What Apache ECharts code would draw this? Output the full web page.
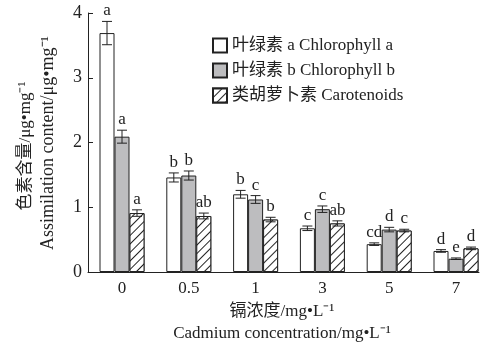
<!DOCTYPE html>
<html><head><meta charset="utf-8">
<script src="https://cdn.jsdelivr.net/npm/echarts@6/dist/echarts.min.js"></script>
<style>html,body{margin:0;padding:0;background:#fff}#c{width:502px;height:353px}</style>
</head><body><div id="c"></div>
<script>
const categories = ['0','0.5','1','3','5','7'];
const seriesNames = ['叶绿素 a Chlorophyll a','叶绿素 b Chlorophyll b','类胡萝卜素 Carotenoids'];
const chlA = [3.69,1.46,1.20,0.675,0.43,0.325];
const chlAErr = [0.18,0.07,0.06,0.035,0.02,0.02];
const chlALetters = ['a','b','b','c','cd','d'];
const chlB = [2.09,1.49,1.12,0.97,0.655,0.205];
const chlBErr = [0.10,0.07,0.06,0.05,0.035,0.012];
const chlBLetters = ['a','b','c','c','d','e'];
const car = [0.91,0.865,0.81,0.75,0.64,0.365];
const carErr = [0.05,0.045,0.035,0.04,0.02,0.02];
const carLetters = ['a','ab','b','ab','c','d'];
const yTicks = [0,1,2,3,4];

const SERIF = '"Liberation Serif","Noto Sans CJK SC",serif';
const INK = '#222';
const BAR_W = 15;

const values = [chlA, chlB, car];
const errs = [chlAErr, chlBErr, carErr];
const letters = [chlALetters, chlBLetters, carLetters];

const barStyles = [
  {color:'#ffffff', borderColor:INK, borderWidth:1},
  {color:'#bdbdbf', borderColor:INK, borderWidth:1},
  {color:'#ffffff', borderColor:INK, borderWidth:1,
   decal:{symbol:'rect', symbolSize:1, dashArrayX:[1,0], dashArrayY:[1,5], rotation:-Math.PI/4, color:INK, backgroundColor:'#ffffff'}}
];

const series = [];
values.forEach((v, s) => {
  series.push({
    name: seriesNames[s], type:'bar', xAxisIndex:0, yAxisIndex:0,
    data: v, barWidth: BAR_W, barGap:'0%', itemStyle: barStyles[s], z:2
  });
});
values.forEach((v, s) => {
  const data = v.map((val, i) => [i, val, errs[s][i], letters[s][i]]);
  series.push({
    name: 'err'+s, type:'custom', xAxisIndex:0, yAxisIndex:0, z:3,
    data: data,
    renderItem: function(params, api){
      const i = api.value(0), val = api.value(1), e = api.value(2);
      const letter = data[params.dataIndex][3];
      const top = api.coord([i, val + e]);
      const bot = api.coord([i, val - e]);
      const x = top[0] + (s - 1) * BAR_W;
      const cap = 5;
      return {type:'group', children:[
        {type:'line', shape:{x1:x, y1:top[1], x2:x, y2:bot[1]}, style:{stroke:INK, lineWidth:1}},
        {type:'line', shape:{x1:x-cap, y1:top[1], x2:x+cap, y2:top[1]}, style:{stroke:INK, lineWidth:1}},
        {type:'line', shape:{x1:x-cap, y1:bot[1], x2:x+cap, y2:bot[1]}, style:{stroke:INK, lineWidth:1}},
        {type:'text', style:{text:letter, x:x, y:top[1]-2, align:'center', verticalAlign:'bottom', font:'17px "Liberation Serif", serif', fill:INK}}
      ]};
    }
  });
});

const chart = echarts.init(document.getElementById('c'), null, {renderer:'canvas'});
chart.setOption({
  animation:false,
  backgroundColor:'#fff',
  grid:[
    {left:88.6, top:13, width:400.8, height:259},
    {left:88, top:13, width:391, height:259}
  ],
  legend:{
    data: seriesNames, orient:'vertical', left:207, top:32,
    itemWidth:14, itemHeight:14, itemGap:8, icon:'rect',
    textStyle:{fontFamily:SERIF, fontSize:17, color:INK}
  },
  xAxis:[
    {type:'category', gridIndex:0, data:categories, axisLine:{show:false}, axisTick:{show:false},
     axisLabel:{fontFamily:SERIF, fontSize:17, color:INK, margin:8}},
    {type:'value', gridIndex:1, min:0, max:1, axisLine:{show:true, lineStyle:{color:INK, width:1}},
     axisTick:{show:false}, axisLabel:{show:false}, splitLine:{show:false}}
  ],
  yAxis:[
    {type:'value', gridIndex:0, min:0, max:4, show:false},
    {type:'value', gridIndex:1, min:yTicks[0], max:yTicks[yTicks.length-1], interval:1,
     axisLine:{show:true, lineStyle:{color:INK, width:1}},
     axisTick:{show:true, inside:true, length:5, lineStyle:{color:INK}},
     axisLabel:{fontFamily:SERIF, fontSize:18, color:INK, margin:6},
     splitLine:{show:false}}
  ],
  graphic:[
    {type:'text', x:26, y:146, rotation:Math.PI/2, style:{text:'色素含量/μg•mg⁻¹', align:'center', verticalAlign:'middle', font:'17px "Liberation Serif","Noto Sans CJK SC",serif', fill:INK}},
    {type:'text', x:48, y:143, rotation:Math.PI/2, style:{text:'Assimilation content/μg•mg⁻¹', align:'center', verticalAlign:'middle', font:'18px "Liberation Serif","Noto Sans CJK SC",serif', fill:INK}},
    {type:'text', x:282, y:312, style:{text:'镉浓度/mg•L⁻¹', align:'center', verticalAlign:'middle', font:'17px "Liberation Serif","Noto Sans CJK SC",serif', fill:INK}},
    {type:'text', x:282, y:334, style:{text:'Cadmium concentration/mg•L⁻¹', align:'center', verticalAlign:'middle', font:'17px "Liberation Serif","Noto Sans CJK SC",serif', fill:INK}}
  ],
  series: series
});
</script></body></html>
